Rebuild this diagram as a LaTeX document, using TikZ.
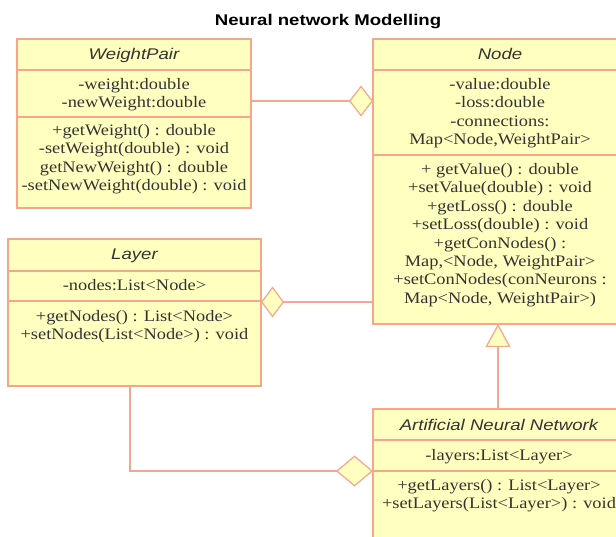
\documentclass[tikz,border=0pt]{standalone}
\usepackage{fontspec}
\setmainfont{Liberation Serif}[FakeStretch=1.15]
\newfontfamily\umlsans{Liberation Sans}[FakeStretch=1.2]
\usetikzlibrary{arrows.meta}

\definecolor{umlfill}{HTML}{FFFFC0}
\definecolor{umlline}{HTML}{F6A68C}
\definecolor{umltext}{HTML}{333333}

\tikzset{
  classbox/.style={draw=umlline, fill=umlfill, line width=1.2pt, rectangle,
    inner sep=0pt, outer sep=0pt, anchor=north west},
  divider/.style={draw=umlline, line width=1.2pt},
  diagtitle/.style={font=\umlsans\bfseries\fontsize{15.5}{18}\selectfont,
    text=black, inner sep=0pt, anchor=base},
  clsname/.style={font=\umlsans\itshape\fontsize{15.5}{18}\selectfont,
    text=umltext, inner sep=0pt, anchor=base},
  member/.style={font=\fontsize{16}{18}\selectfont, text=umltext,
    inner sep=0pt, anchor=base},
  link/.style={draw=umlline, line width=1.2pt},
  aggr/.style={-{Diamond[length=#1, width=31pt, fill=umlfill]}},
  inherit/.style={-{Triangle[length=23pt, width=25pt, fill=umlfill]}},
}

% one text line per member, on evenly spaced baselines
\newcommand\memberlines[4]{%
  \foreach \txt [count=\k] in {#4} {
    \node[member] (#1-\k) at (#2, {#3+(\k-1)*18.4}) {\txt};
  }%
}

\begin{document}
\begin{tikzpicture}[x=1pt, y=-1pt]
\useasboundingbox (0,0) rectangle (616,537);
\clip (0,0) rectangle (616,537);

\node[diagtitle] (title) at (328,26) {Neural network Modelling};

% ---- WeightPair ----
\node[classbox, minimum width=234pt, minimum height=169pt] (wp) at (17,39) {};
\draw[divider] ([yshift=-31pt]wp.north west) -- ([yshift=-31pt]wp.north east);
\draw[divider] ([yshift=-78pt]wp.north west) -- ([yshift=-78pt]wp.north east);
\node[clsname] (wp-name) at (134,60) {WeightPair};
\memberlines{wpa}{134}{89.5}{-weight:double, -newWeight:double}
\memberlines{wpm}{134}{135.5}{+getWeight() : double, -setWeight(double) : void,
  getNewWeight() : double, -setNewWeight(double) : void}

% ---- Node ----
\node[classbox, minimum width=254pt, minimum height=285pt] (nd) at (373,39) {};
\draw[divider] ([yshift=-31pt]nd.north west) -- ([yshift=-31pt]nd.north east);
\draw[divider] ([yshift=-116pt]nd.north west) -- ([yshift=-116pt]nd.north east);
\node[clsname] (nd-name) at (500,60) {Node};
\memberlines{nda}{500}{89.5}{-value:double, -loss:double, -connections:,
  {Map<Node,WeightPair>}}
\memberlines{ndm}{500}{174.5}{+ getValue() : double, +setValue(double) : void,
  +getLoss() : double, +setLoss(double) : void, +getConNodes() :,
  {Map,<Node, WeightPair>}, +setConNodes(conNeurons :, {Map<Node, WeightPair>)}}

% ---- Layer ----
\node[classbox, minimum width=253pt, minimum height=147pt] (ly) at (8,239) {};
\draw[divider] ([yshift=-32pt]ly.north west) -- ([yshift=-32pt]ly.north east);
\draw[divider] ([yshift=-62pt]ly.north west) -- ([yshift=-62pt]ly.north east);
\node[clsname] (ly-name) at (134.5,260) {Layer};
\memberlines{lya}{134.5}{290.5}{-nodes:List<Node>}
\memberlines{lym}{134.5}{321.5}{+getNodes() : List<Node>,
  +setNodes(List<Node>) : void}

% ---- Artificial Neural Network ----
\node[classbox, minimum width=254pt, minimum height=151pt] (ann) at (373,409) {};
\draw[divider] ([yshift=-31pt]ann.north west) -- ([yshift=-31pt]ann.north east);
\draw[divider] ([yshift=-62pt]ann.north west) -- ([yshift=-62pt]ann.north east);
\node[clsname] (ann-name) at (499,430) {Artificial Neural Network};
\memberlines{anna}{499}{460.5}{-layers:List<Layer>}
\memberlines{annm}{499}{490.5}{+getLayers() : List<Layer>,
  +setLayers(List<Layer>) : void}

% ---- relations ----
\draw[link, aggr=24pt] ([yshift=-62pt]wp.north east) -- ([yshift=-62pt]nd.north west);
\draw[link, aggr=23pt] ([yshift=-263pt]nd.north west) -- ([yshift=-63pt]ly.north east);
\draw[link, aggr=37pt] ([xshift=-4.5pt]ly.south) |- ([yshift=-62pt]ann.north west);
\draw[link, inherit] ([xshift=-2pt]ann.north) -- ([xshift=-2pt]nd.south);
\end{tikzpicture}
\end{document}
